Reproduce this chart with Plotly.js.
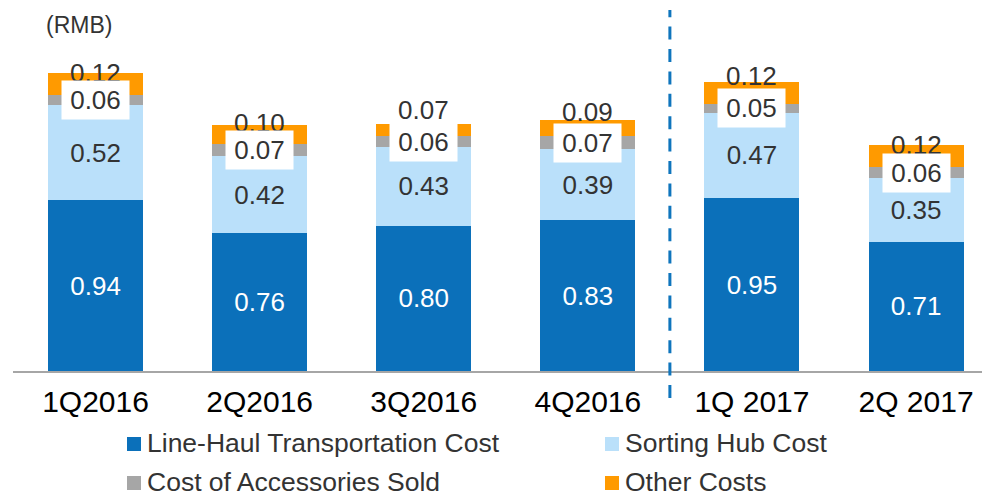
<!DOCTYPE html>
<html><head><meta charset="utf-8">
<script src="https://cdn.plot.ly/plotly-3.0.1.min.js"></script>
<style>html,body{margin:0;padding:0;background:#fff}</style>
</head><body><div id="chart" style="width:982px;height:500px"></div>
<script>
// ---- data ----
const categories = ['1Q2016','2Q2016','3Q2016','4Q2016','1Q 2017','2Q 2017'];
const lineHaul = [0.94, 0.76, 0.80, 0.83, 0.95, 0.71];
const sortingHub = [0.52, 0.42, 0.43, 0.39, 0.47, 0.35];
const accessories = [0.06, 0.07, 0.06, 0.07, 0.05, 0.06];
const otherCosts = [0.12, 0.10, 0.07, 0.09, 0.12, 0.12];
const seriesNames = ['Line-Haul Transportation Cost','Sorting Hub Cost','Cost of Accessories Sold','Other Costs'];
const unitLabel = '(RMB)';
const dividerAfter = 3; // divider between 4Q2016 and 1Q 2017

// ---- style ----
const colors = ['#0B70BA', '#BAE0FA', '#A6A6A6', '#FF9A00'];
const FONT = 'Arial, "Liberation Sans", sans-serif';
const darkText = '#333333';
const otherLabelShift = [0, 2, 14, 8, 6, 0]; // px nudges of the "Other" labels

const W = 982, H = 500, ML = 13, MR = 0, MT = 10, MB = 129;
const PW = W - ML - MR, PH = H - MT - MB;
const px2paperX = px => (px - ML) / PW;
const px2paperY = py => (H - MB - py) / PH;

const seriesVals = [lineHaul, sortingHub, accessories, otherCosts];
const traces = seriesVals.map((vals, i) => ({
  type: 'bar', x: categories, y: vals, name: seriesNames[i],
  marker: {color: colors[i], line: {width: 0}},
  hoverinfo: 'skip', showlegend: false,
  texttemplate: i < 2 ? '%{y:.2f}' : '',
  textposition: i < 2 ? 'inside' : 'none',
  insidetextanchor: 'middle',
  constraintext: 'none',
  textangle: 0,
  textfont: {family: FONT, size: 26, color: i === 0 ? '#FFFFFF' : darkText}
}));

const annotations = [];
// Other cost labels (drawn first, under the white boxes)
categories.forEach((c, k) => {
  const top = lineHaul[k] + sortingHub[k] + accessories[k] + otherCosts[k];
  annotations.push({
    x: c, y: top, xref: 'x', yref: 'y', text: otherCosts[k].toFixed(2),
    showarrow: false, yanchor: 'middle', xanchor: 'center', yshift: otherLabelShift[k],
    font: {family: FONT, size: 26, color: darkText}
  });
});
// Accessories labels with white boxes
categories.forEach((c, k) => {
  const mid = lineHaul[k] + sortingHub[k] + accessories[k] / 2;
  annotations.push({
    x: c, y: mid, xref: 'x', yref: 'y', text: accessories[k].toFixed(2),
    showarrow: false, yanchor: 'middle', xanchor: 'center',
    bgcolor: '#FFFFFF', borderpad: 4, width: 59, height: 30,
    font: {family: FONT, size: 26, color: darkText}
  });
});
// unit label
annotations.push({
  x: px2paperX(44), y: px2paperY(25), xref: 'paper', yref: 'paper', text: unitLabel,
  showarrow: false, xanchor: 'left', yanchor: 'middle',
  font: {family: FONT, size: 23, color: darkText}
});

const shapes = [
  {type: 'line', xref: 'x', yref: 'paper', x0: dividerAfter + 0.5, x1: dividerAfter + 0.5,
   y0: px2paperY(398), y1: px2paperY(10),
   line: {color: '#0F75BD', width: 3, dash: '13px,9.4px'}}
];

// manual legend (2 columns)
const legPos = [[127, 443], [605, 443], [127, 482], [605, 482]];
seriesNames.forEach((n, i) => {
  const [lx, ly] = legPos[i];
  shapes.push({type: 'rect', xref: 'paper', yref: 'paper',
    x0: px2paperX(lx), x1: px2paperX(lx + 14), y0: px2paperY(ly - 6), y1: px2paperY(ly + 8),
    fillcolor: colors[i], line: {width: 0}});
  annotations.push({x: px2paperX(lx + 18), y: px2paperY(ly), xref: 'paper', yref: 'paper',
    text: n, showarrow: false, xanchor: 'left', yanchor: 'middle',
    font: {family: FONT, size: 26.5, color: darkText}});
});

const layout = {
  width: W, height: H,
  margin: {l: ML, r: MR, t: MT, b: MB},
  paper_bgcolor: '#FFFFFF', plot_bgcolor: '#FFFFFF',
  barmode: 'stack', bargap: 0.421,
  showlegend: false,
  xaxis: {type: 'category', range: [-0.503, 5.402], showline: true, linecolor: '#A6A6A6', linewidth: 1.5,
          ticks: '', showgrid: false, zeroline: false, ticklabelstandoff: 3,
          tickfont: {family: FONT, size: 30, color: '#000000'}, fixedrange: true},
  yaxis: {range: [0, 1.985], visible: false, showgrid: false, zeroline: false, fixedrange: true},
  annotations: annotations,
  shapes: shapes,
  font: {family: FONT}
};

Plotly.newPlot('chart', traces, layout, {displayModeBar: false, staticPlot: true});
</script>
</body></html>
